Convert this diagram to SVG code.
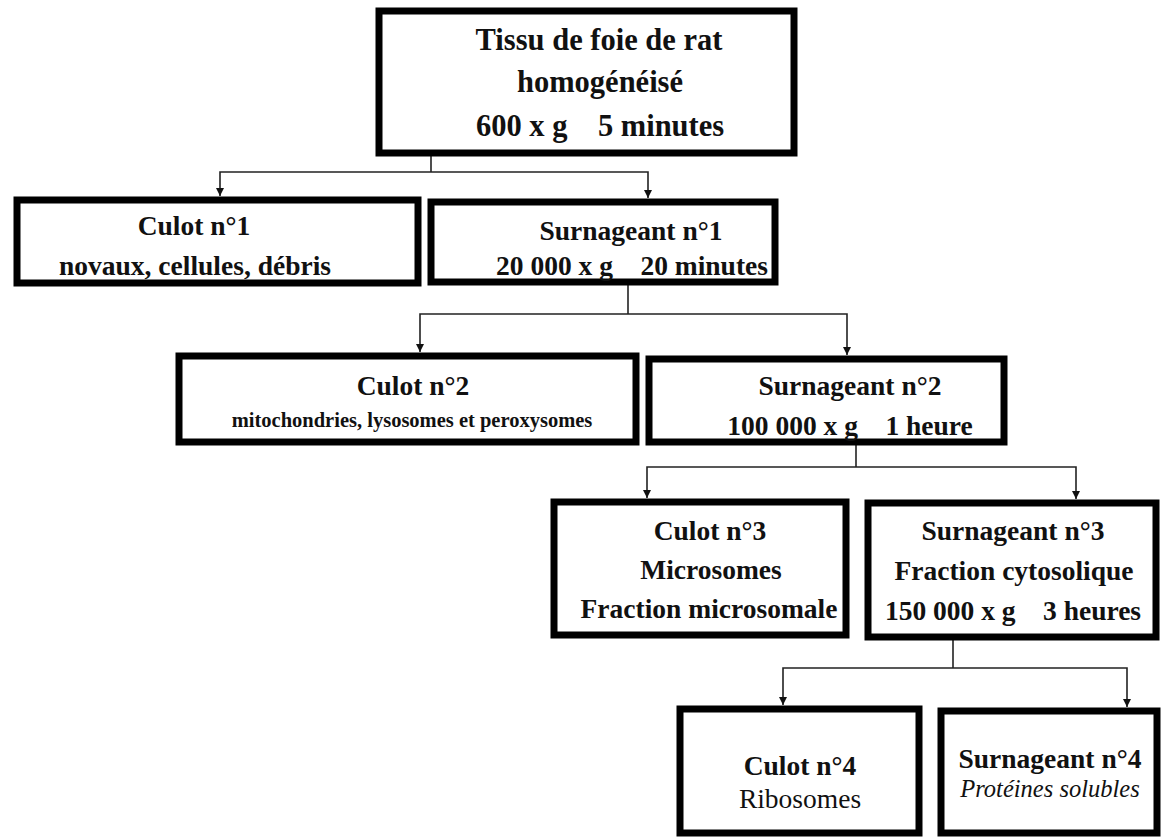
<svg xmlns="http://www.w3.org/2000/svg" width="1162" height="839" viewBox="0 0 1162 839">
<style>
.box{fill:#fff;stroke:#000;stroke-width:7}
.t{font-family:"Liberation Serif","Times New Roman",serif;font-weight:bold;font-size:27.5px;fill:#111;text-anchor:middle}
.big{font-size:30.5px}
.small{font-size:20.5px}
.reg{font-weight:normal}
.it{font-style:italic;font-weight:normal;font-size:24.5px}
.c{fill:none;stroke:#222;stroke-width:1.6}
</style>
<defs>
<marker id="arr" viewBox="0 0 8 8" refX="8" refY="4" markerWidth="8" markerHeight="8" orient="auto" markerUnits="userSpaceOnUse"><path d="M0,0 L8,4 L0,8 z" fill="#111"/></marker>
</defs>
<rect width="1162" height="839" fill="#fff"/>
<g id="connectors">
<path class="c" d="M431,156 V172"/>
<path class="c" d="M431,172 H220 V196" marker-end="url(#arr)"/>
<path class="c" d="M431,172 H648 V198" marker-end="url(#arr)"/>
<path class="c" d="M628,285 V314"/>
<path class="c" d="M628,314 H420 V352" marker-end="url(#arr)"/>
<path class="c" d="M628,314 H847 V355" marker-end="url(#arr)"/>
<path class="c" d="M856,445 V467"/>
<path class="c" d="M856,467 H647 V498" marker-end="url(#arr)"/>
<path class="c" d="M856,467 H1076 V499" marker-end="url(#arr)"/>
<path class="c" d="M953,640 V668"/>
<path class="c" d="M953,668 H783 V705" marker-end="url(#arr)"/>
<path class="c" d="M953,668 H1127 V707" marker-end="url(#arr)"/>
</g>
<g id="n0">
<rect class="box" x="379" y="11" width="415" height="142"/>
<text class="t big" x="599" y="50">Tissu de foie de rat</text>
<text class="t big" x="600" y="92">homogénéisé</text>
<text class="t big" x="600" y="136" xml:space="preserve">600 x g    5 minutes</text>
</g>
<g id="n1">
<rect class="box" x="17" y="200" width="401" height="83"/>
<text class="t" x="194" y="235">Culot n°1</text>
<text class="t" x="195" y="275">novaux, cellules, débris</text>
</g>
<g id="n2">
<rect class="box" x="431" y="202" width="344" height="80"/>
<text class="t" x="631" y="240">Surnageant n°1</text>
<text class="t" x="632" y="275" xml:space="preserve">20 000 x g    20 minutes</text>
</g>
<g id="n3">
<rect class="box" x="179" y="356" width="457" height="86"/>
<text class="t" x="413" y="395">Culot n°2</text>
<text class="t small" x="412" y="427">mitochondries, lysosomes et peroxysomes</text>
</g>
<g id="n4">
<rect class="box" x="649" y="359" width="355" height="83"/>
<text class="t" x="850" y="395">Surnageant n°2</text>
<text class="t" x="850" y="435" xml:space="preserve">100 000 x g    1 heure</text>
</g>
<g id="n5">
<rect class="box" x="554" y="502" width="292" height="133"/>
<text class="t" x="710" y="540">Culot n°3</text>
<text class="t" x="711" y="579">Microsomes</text>
<text class="t" x="709" y="618">Fraction microsomale</text>
</g>
<g id="n6">
<rect class="box" x="868" y="503" width="288" height="134"/>
<text class="t" x="1013" y="540">Surnageant n°3</text>
<text class="t" x="1014" y="580">Fraction cytosolique</text>
<text class="t" x="1013" y="620" xml:space="preserve">150 000 x g    3 heures</text>
</g>
<g id="n7">
<rect class="box" x="680" y="709" width="239" height="124"/>
<text class="t" x="800" y="775">Culot n°4</text>
<text class="t reg" x="800" y="808">Ribosomes</text>
</g>
<g id="n8">
<rect class="box" x="941" y="711" width="216" height="122"/>
<text class="t" x="1050" y="768">Surnageant n°4</text>
<text class="t it" x="1050" y="797">Protéines solubles</text>
</g>
</svg>
